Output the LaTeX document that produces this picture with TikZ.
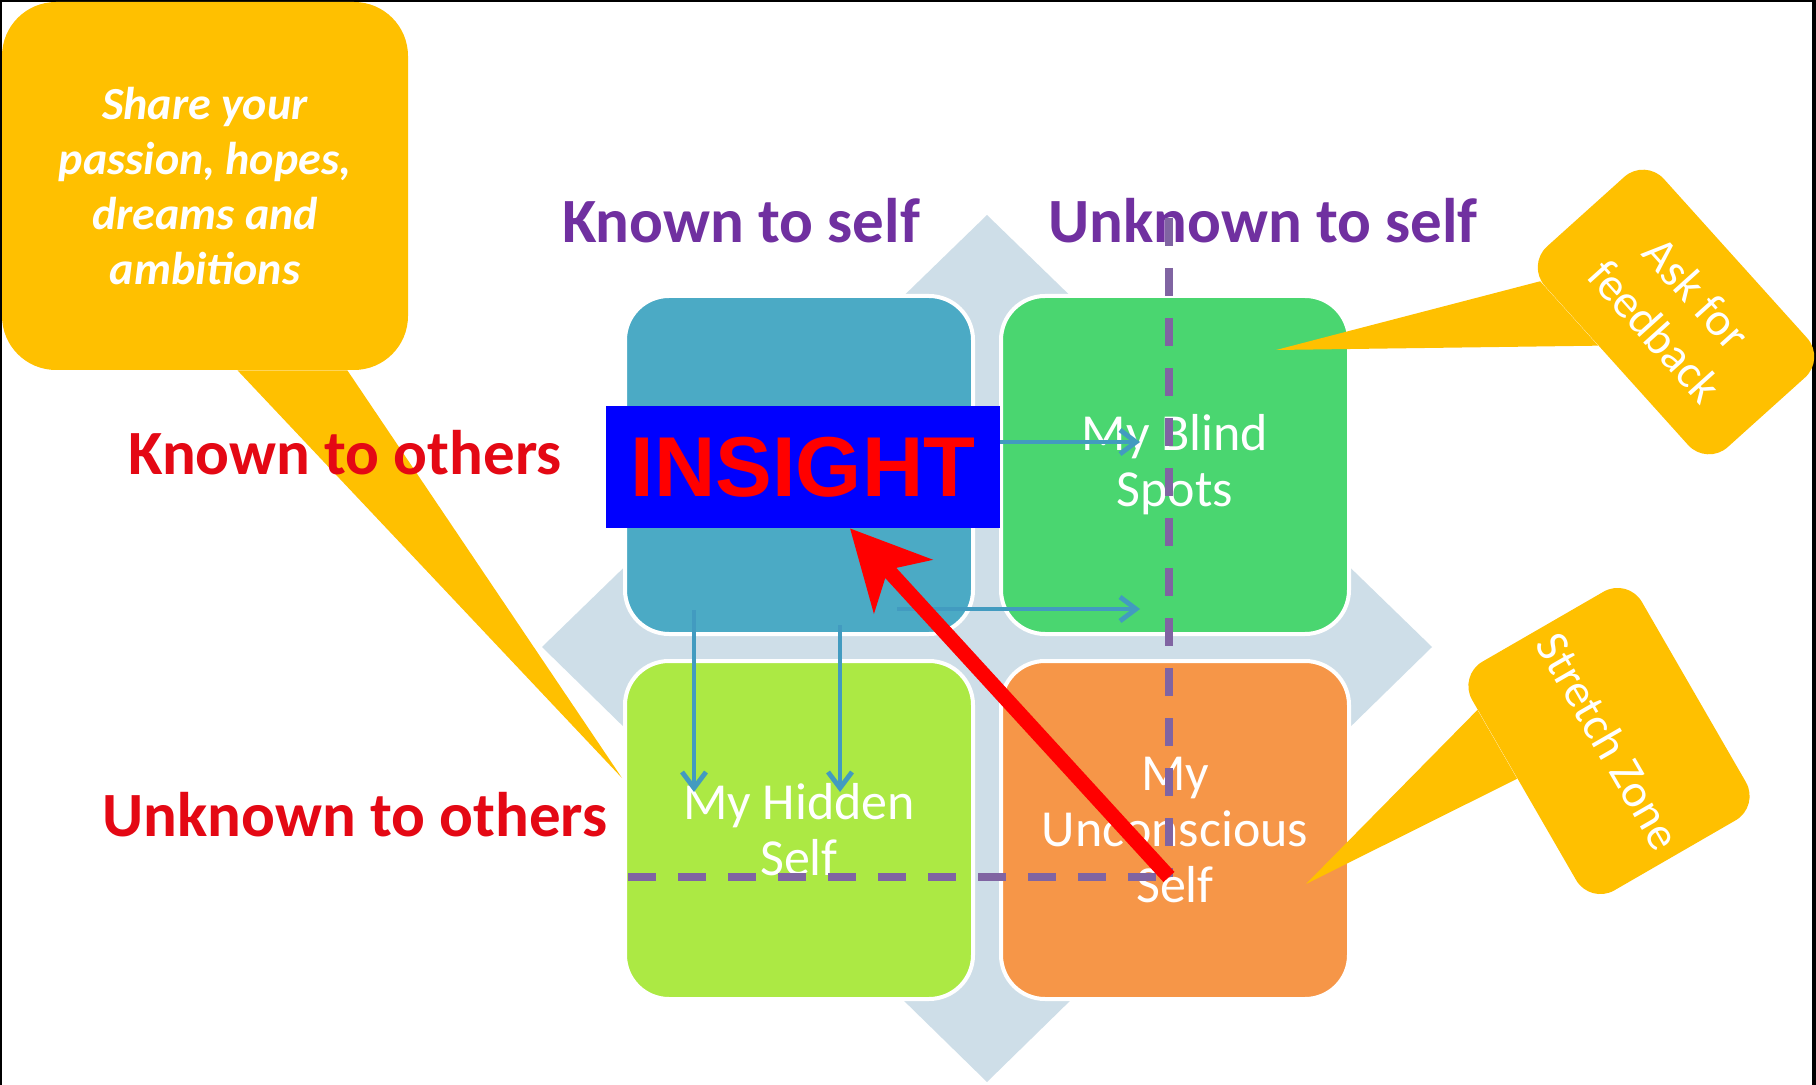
\documentclass[tikz,border=0pt]{standalone}
\usepackage{fontspec}
\setmainfont{Carlito}
\newfontfamily\insightfont{Liberation Sans}
\usetikzlibrary{arrows.meta,calc}
\definecolor{callyellow}{RGB}{255,192,0}
\definecolor{selfpurple}{RGB}{112,48,160}
\definecolor{otherred}{RGB}{228,8,20}
\definecolor{openblue}{RGB}{75,170,197}
\definecolor{blindgreen}{RGB}{74,214,112}
\definecolor{hiddenlime}{RGB}{172,233,68}
\definecolor{unconsorange}{RGB}{246,150,72}
\definecolor{diamondgrey}{RGB}{206,222,232}
\definecolor{dashpurple}{RGB}{128,100,162}
\definecolor{arrowteal}{RGB}{66,155,192}
\definecolor{insightblue}{RGB}{0,0,255}

\begin{document}
\begin{tikzpicture}[x=0.5pt,y=-0.5pt,
	quad/.style={draw=white,line width=2pt,rounded corners=22pt,minimum width=174pt,minimum height=169pt,text=white,align=center,font=\fontsize{26}{28}\selectfont},
	axislab/.style={font=\fontsize{31.5}{36}\selectfont\bfseries},
	tagbox/.style={fill=callyellow,rounded corners=14pt,text=white,align=center,font=\fontsize{23.5}{28}\selectfont},
	flowarrow/.style={arrowteal,line width=2.4pt,-{Straight Barb[length=8pt,width=12pt]}},
	dashline/.style={dashpurple,line width=3.6pt,dash pattern=on 14pt off 11pt},
	bigarrow/.style={red,line width=7.5pt,-{Stealth[length=39pt,width=39pt,inset=11pt]}}]
		\useasboundingbox (0,0) rectangle (1816,1085);
		\fill[white] (0,0) rectangle (1816,1085);
		\draw[line width=2pt] (0,1085) |- (1814,0) -- (1814,1085);
		\fill[diamondgrey] (987,215) -- (1432,647) -- (987,1082) -- (542,647) -- cycle;
		% share callout
		\node[tagbox,rounded corners=27pt,minimum width=203pt,minimum height=184pt,font=\fontsize{23}{27.5}\selectfont\bfseries\itshape] (share) at (205,186) {Share your\\passion, hopes,\\dreams and\\ambitions};
		\coordinate (sharetip) at (622,778);
		\fill[callyellow] ($(share.south west)!0.58!(share.south east)$) -- (sharetip) -- ($(share.south west)!0.85!(share.south east)$) -- cycle;
		\node[quad,fill=openblue] (open) at (799,465) {};
		\node[quad,fill=blindgreen] (blind) at (1175,465) {My Blind\\Spots};
		\node[quad,fill=hiddenlime] (hidden) at (799,830) {My Hidden\\Self};
		\node[quad,fill=unconsorange] (uncons) at (1175,830) {My\\Unconscious\\Self};
		\node[axislab,text=selfpurple] (kself) at (741,221) {Known to self};
		\node[axislab,text=selfpurple] (uself) at (1263,221) {Unknown to self};
		\node[axislab,text=otherred] (kothers) at (345,453) {Known to others};
		\node[axislab,text=otherred] (uothers) at (355,815) {Unknown to others};
		% window lines
		\coordinate (dtop) at (1169,218);
		\coordinate (dcorner) at (1169,877);
		\coordinate (dleft) at (628,877);
		\draw[dashline] (dtop) -- (dcorner);
		\draw[dashline] (dleft) -- (dcorner);
		\coordinate (a1s) at (960,442); \coordinate (a1e) at (1140,442);
		\coordinate (a2s) at (897,609); \coordinate (a2e) at (1140,609);
		\coordinate (a3s) at (694,610); \coordinate (a3e) at (694,792);
		\coordinate (a4s) at (840,625); \coordinate (a4e) at (840,792);
		\foreach \s/\e in {a1s/a1e,a2s/a2e,a3s/a3e,a4s/a4e}
			\draw[flowarrow] (\s) -- (\e);
		\node[fill=insightblue,text=red,minimum width=197pt,minimum height=61pt,inner sep=0pt,font=\insightfont\bfseries\fontsize{42.5}{45}\selectfont] (insight) at (803,467) {INSIGHT};
		\draw[bigarrow] (dcorner) -- ($(insight.south)+(47,0)$);
		% side callouts
		\node[tagbox,rotate=-48,minimum width=135pt,minimum height=80pt] (ask) at (1676,312) {Ask for\\feedback};
		\coordinate (asktip) at (1276,350);
		\fill[callyellow] ($(ask.south west)!0.08!(ask.south east)$) -- (asktip) -- ($(ask.south west)!0.4!(ask.south east)$) -- cycle;
		\node[tagbox,rotate=-60,minimum width=132pt,minimum height=98pt] (stretch) at (1609,741) {Stretch Zone};
		\coordinate (stretchtip) at (1306,884);
		\fill[callyellow] ($(stretch.south west)!0.15!(stretch.south east)$) -- (stretchtip) -- ($(stretch.south west)!0.45!(stretch.south east)$) -- cycle;
	\end{tikzpicture}
\end{document}
